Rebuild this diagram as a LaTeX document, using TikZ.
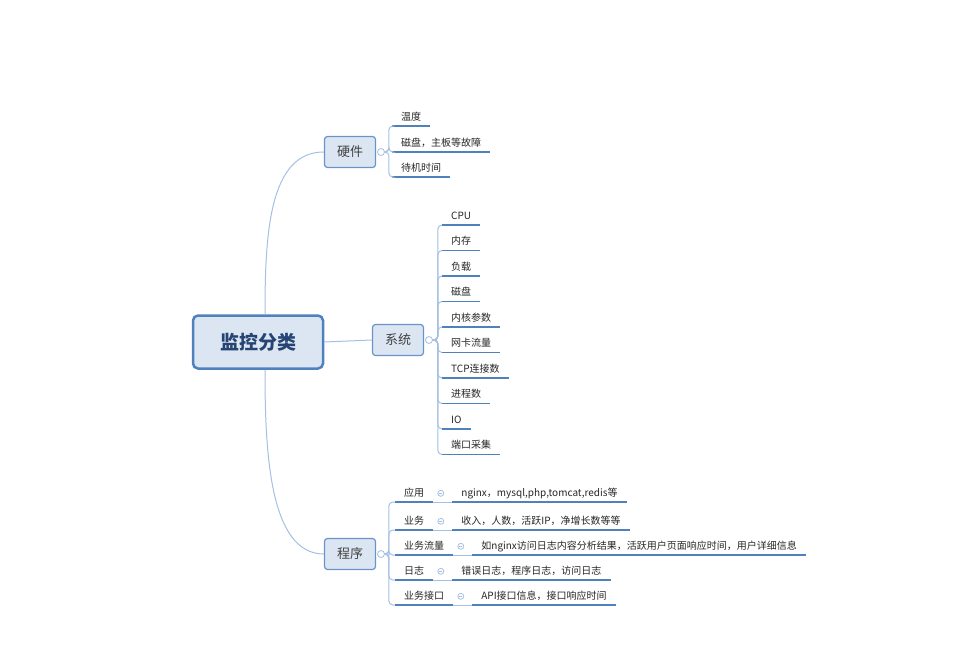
\documentclass[tikz,border=0pt]{standalone}
\usepackage{fontspec}
\setmainfont{Noto Sans CJK SC}
\usetikzlibrary{positioning}
\definecolor{branchblue}{RGB}{165,192,226}
\definecolor{lineblue}{RGB}{79,129,189}
\definecolor{boxfill}{RGB}{220,230,242}
\definecolor{boxedge}{RGB}{105,148,202}
\definecolor{roottext}{RGB}{38,68,115}

\begin{document}
\begin{tikzpicture}[x=1pt, y=-1pt,
    topic/.style={draw=boxedge, fill=boxfill, line width=1.2pt, rounded corners=3pt,
      minimum width=51pt, minimum height=31pt, font=\fontsize{13}{15}\selectfont, text=black!75},
    rootbox/.style={draw=lineblue, fill=boxfill, line width=2.5pt, rounded corners=5pt,
      minimum width=130pt, minimum height=53pt, font=\fontsize{19}{22}\selectfont\bfseries, text=roottext},
    leaf/.style={anchor=south west, inner xsep=9pt, inner ysep=4pt, text height=7.5pt,
      text depth=1.5pt, font=\fontsize{10}{12}\selectfont, text=black!85},
    fold/.style={circle, draw=branchblue, fill=white, line width=0.8pt, minimum size=7pt, inner sep=0pt},
    minifold/.style={fold, minimum size=6pt, path picture={
        \draw[branchblue, line width=0.6pt] ([xshift=-1.5pt]path picture bounding box.center)
          -- ([xshift=1.5pt]path picture bounding box.center);}},
    branch/.style={draw=branchblue, line width=1pt},
    uline/.style={draw=lineblue, line width=1.8pt}]

  \useasboundingbox (0,0) rectangle (955,667);

  % main topics
  \node[rootbox] (root) at (258,342) {监控分类};
  \node[topic] (hw) at (350,152) {硬件};
  \node[topic] (sys) at (398,340) {系统};
  \node[topic] (prog) at (350,554) {程序};

  \draw[branch] ([xshift=7pt]root.north) .. controls +(0,-80) and +(-55,0) .. (hw.west);
  \draw[branch] (root.east) -- (sys.west);
  \draw[branch] ([xshift=7pt]root.south) .. controls +(0,80) and +(-55,0) .. (prog.west);

  \node[fold, right=1pt of hw] (hwf) {};
  \node[fold, right=1pt of sys] (sysf) {};
  \node[fold, right=1pt of prog] (progf) {};

  % hardware
  \foreach \txt/\y [count=\i] in {温度/126, 磁盘，主板等故障/152, 待机时间/177} {
    \node[leaf] (h\i) at (392,\y) {\txt};
    \draw[uline] (h\i.south west) -- (h\i.south east);
    \draw[branch, rounded corners=4pt] (hwf.east) -- ++(4,0) |- (h\i.south west);
  }

  % system
  \foreach \txt [count=\i] in {CPU,内存,负载,磁盘,内核参数,网卡流量,TCP连接数,进程数,IO,端口采集} {
    \node[leaf] (s\i) at (442,199.5+25.5*\i) {\txt};
    \draw[uline] (s\i.south west) -- (s\i.south east);
    \draw[branch, rounded corners=4pt] (sysf.east) -- ++(5,0) |- (s\i.south west);
  }

  % program
  \node[leaf] (p1) at (395,502) {应用};
  \node[leaf] (p2) at (395,530) {业务};
  \node[leaf] (p3) at (395,555) {业务流量};
  \node[leaf] (p4) at (395,580) {日志};
  \node[leaf] (p5) at (395,605) {业务接口};
  \foreach \i in {1,...,5} {
    \node[minifold, right=4pt of p\i] (f\i) {};
    \draw[uline] (p\i.south west) -- (p\i.south east);
    \draw[branch, rounded corners=4pt] (progf.east) -- ++(4,0) |- (p\i.south west);
  }
  \node[leaf] (d1) at ([xshift=8pt]f1.east |- p1.south) {nginx，mysql,php,tomcat,redis等};
  \node[leaf] (d2) at ([xshift=8pt]f2.east |- p2.south) {收入，人数，活跃IP，净增长数等等};
  \node[leaf] (d3) at ([xshift=8pt]f3.east |- p3.south) {如nginx访问日志内容分析结果，活跃用户页面响应时间，用户详细信息};
  \node[leaf] (d4) at ([xshift=8pt]f4.east |- p4.south) {错误日志，程序日志，访问日志};
  \node[leaf] (d5) at ([xshift=8pt]f5.east |- p5.south) {API接口信息，接口响应时间};
  \foreach \i in {1,...,5} {
    \draw[branch] (p\i.south east) -- (d\i.south west);
    \draw[uline] (d\i.south west) -- (d\i.south east);
  }
\end{tikzpicture}
\end{document}
